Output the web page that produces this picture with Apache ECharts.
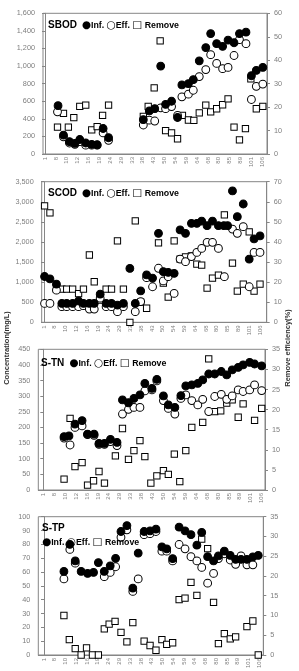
<!DOCTYPE html>
<html>
<head>
<meta charset="utf-8">
<script src="https://cdn.jsdelivr.net/npm/echarts@6/dist/echarts.min.js"></script>
<style>
html, body { margin: 0; padding: 0; background: #fff; }
#main { width: 299px; height: 671px; }
</style>
</head>
<body>
<div id="main"></div>
<script>
// x 轴标签（运行天数，每隔一个位置标一个）
var dayLabels = ['1', '8', '10', '12', '16', '19', '24', '29', '33', '38', '43',
    '50', '54', '59', '64', '68', '80', '85', '89', '101', '106'];

// 数据格式：[x 位置（0~40，标签每 2 个单位一个）, 数值]
// SBOD（左轴 mg/L，去除率右轴 %）
var sbodInf = [[2.4, 550], [3.4, 215], [4.5, 140], [5.5, 120], [6.4, 165], [7.5, 125], [8.6, 110], [9.6, 105],
    [10.7, 290], [11.7, 185], [18.1, 390], [19.2, 490], [20.2, 515], [21.3, 1000], [22.2, 565], [23.3, 600],
    [24.4, 415], [25.2, 785], [26.4, 800], [27.3, 845], [28.4, 1060], [29.6, 1210], [30.5, 1370], [31.6, 1255],
    [32.7, 1225], [33.7, 1295], [34.8, 1265], [35.8, 1370], [37.0, 1385], [38.0, 890], [38.9, 950], [40.1, 985]];
var sbodEff = [[2.3, 480], [3.4, 195], [4.5, 125], [5.5, 110], [6.4, 140], [7.5, 100], [8.6, 100], [9.6, 100],
    [10.7, 240], [11.7, 155], [18.1, 330], [19.2, 385], [20.2, 375], [21.3, 525], [22.2, 515], [23.3, 540],
    [24.4, 440], [25.2, 650], [26.4, 680], [27.3, 725], [28.4, 880], [29.6, 960], [30.5, 1130], [31.6, 1030],
    [32.7, 970], [33.7, 985], [34.8, 1120], [35.8, 1300], [37.0, 1255], [38.0, 620], [38.9, 770], [40.1, 795]];
var sbodRem = [[2.3, 11.5], [3.4, 17.3], [4.3, 11.5], [5.3, 15.5], [6.4, 20.3], [7.5, 20.8], [8.6, 10.3], [9.6, 11.7],
    [10.6, 16.5], [11.7, 20.8], [18.1, 16.0], [19.0, 20.3], [20.1, 28.2], [21.2, 48.2], [22.2, 10.0], [23.3, 9.0],
    [24.4, 6.5], [25.3, 16.5], [26.4, 14.5], [27.4, 14.3], [28.4, 17.5], [29.6, 20.8], [30.5, 18.0], [31.6, 19.3],
    [32.7, 21.0], [33.7, 23.5], [34.8, 11.5], [35.8, 6.0], [36.9, 10.8], [37.9, 32.0], [38.9, 19.3], [40.1, 20.3]];

// SCOD
var scodInf = [[0.1, 1140], [1.1, 1080], [2.3, 950], [3.3, 470], [4.2, 470], [5.3, 470], [6.4, 530], [7.3, 470],
    [8.4, 470], [9.3, 470], [10.4, 700], [11.5, 470], [12.5, 470], [13.6, 430], [14.7, 470], [15.9, 1340],
    [16.9, 470], [17.9, 780], [19.0, 1180], [20.1, 1100], [21.2, 2215], [22.1, 1260], [23.0, 1245], [24.1, 1220],
    [25.2, 2300], [26.2, 2215], [27.3, 2465], [28.3, 2465], [29.2, 2520], [30.2, 2405], [31.2, 2520], [32.3, 2405],
    [33.3, 2405], [34.0, 2405], [34.9, 3270], [35.8, 2630], [36.9, 2945], [38.0, 1575], [38.9, 2075], [40.0, 2150]];
var scodEff = [[0.1, 470], [1.1, 470], [2.3, 800], [3.3, 390], [4.2, 390], [5.3, 390], [6.4, 390], [7.3, 415],
    [8.4, 330], [9.3, 330], [10.4, 600], [11.5, 390], [12.5, 390], [13.6, 265], [14.7, 390], [16.9, 265],
    [17.9, 515], [19.0, 1110], [20.1, 885], [21.2, 1345], [22.1, 1030], [23.0, 1135], [24.1, 720], [25.2, 1575],
    [26.2, 1510], [27.3, 1635], [28.3, 1740], [29.2, 1840], [30.2, 1990], [31.2, 1990], [32.3, 1840], [33.4, 1135],
    [34.9, 2320], [35.8, 2215], [36.9, 2380], [38.0, 885], [38.9, 1740], [40.0, 1740]];
var scodRem = [[0.1, 58], [1.1, 54.5], [2.3, 16.5], [3.3, 16.5], [4.2, 16.5], [5.3, 16.5], [6.4, 14.3], [7.3, 16.5],
    [8.4, 33.5], [9.3, 20.2], [10.4, 11], [11.5, 16.5], [12.5, 16.5], [13.6, 40.5], [14.7, 16.5], [15.9, 0],
    [16.9, 50.5], [17.9, 10], [19.0, 7], [21.2, 39.5], [22.1, 19.5], [23.0, 12.5], [24.1, 40.5], [25.2, 31.5],
    [26.2, 32.5], [27.3, 33], [28.3, 29], [29.2, 28.5], [30.2, 17], [31.2, 22], [32.3, 23.5], [33.4, 53.5],
    [34.9, 29.5], [35.8, 15.5], [36.9, 19], [38.0, 45], [38.9, 15.5], [40.0, 19]];

// S-TN
var stnInf = [[3.8, 171], [4.7, 173], [5.8, 211], [7.1, 222], [8.1, 179], [9.3, 179], [10.2, 149], [11.2, 149],
    [12.3, 162], [13.5, 152], [14.5, 288], [15.6, 279], [16.6, 293], [17.7, 304], [18.6, 341], [19.9, 325],
    [20.8, 354], [22.0, 301], [22.9, 272], [24.1, 264], [25.2, 302], [26.1, 333], [27.2, 336], [28.3, 341],
    [29.2, 352], [30.3, 371], [31.4, 371], [32.6, 379], [33.6, 368], [34.6, 384], [35.7, 392], [36.6, 400],
    [37.8, 408], [38.7, 403], [40.0, 397]];
var stnEff = [[3.8, 166], [4.9, 144], [5.8, 200], [7.1, 205], [8.1, 177], [9.3, 175], [10.2, 146], [11.2, 146],
    [12.3, 155], [13.5, 142], [14.5, 243], [15.6, 258], [16.6, 264], [17.7, 264], [18.6, 317], [19.9, 320],
    [20.8, 349], [22.0, 286], [22.9, 261], [24.1, 243], [25.2, 293], [26.1, 304], [27.2, 286], [28.3, 272],
    [29.2, 290], [30.3, 251], [31.4, 299], [32.6, 306], [33.6, 290], [34.6, 301], [35.7, 320], [36.6, 315],
    [37.8, 320], [38.7, 336], [40.0, 318]];
var stnRem = [[3.8, 2.7], [4.9, 17.8], [5.8, 5.8], [7.1, 6.8], [8.1, 1.2], [9.2, 2.3], [10.2, 4.6], [11.2, 1.7],
    [13.2, 8.5], [14.5, 15.3], [15.6, 7.6], [16.6, 9.8], [17.7, 12.3], [18.6, 8.3], [19.7, 1.7], [20.8, 3.5],
    [22.0, 4.8], [22.9, 3.9], [24.0, 8.9], [25.0, 2.1], [26.1, 9.8], [27.2, 15.6], [29.2, 16.8], [30.3, 32.6],
    [31.4, 19.5], [32.5, 19.7], [33.6, 21.6], [34.6, 22.4], [35.7, 18.1], [36.6, 21.4], [38.7, 17.3], [40.0, 20.3]];

// S-TP
var stpInf = [[3.7, 60.4], [4.8, 80], [5.8, 68], [6.9, 60.4], [8.1, 59], [9.2, 59.7], [10.1, 66.8], [11.2, 60.4],
    [12.3, 64.5], [13.3, 69.9], [14.3, 89.3], [15.4, 93.6], [16.5, 48.3], [17.5, 73.7], [18.6, 89.3], [19.7, 89.8],
    [20.8, 91], [21.9, 78.2], [22.8, 76.8], [23.9, 69.7], [25.1, 92.4], [26.2, 89.8], [27.3, 87], [28.4, 79.4],
    [29.3, 88.6], [30.4, 71.1], [31.5, 68], [32.4, 71.6], [33.5, 75.1], [34.6, 72], [35.6, 69.2], [36.6, 69.2],
    [37.7, 69.2], [38.8, 70.9], [39.8, 72]];
var stpEff = [[3.7, 55], [4.8, 76.3], [5.8, 66.4], [11.2, 56.6], [12.3, 59.7], [13.3, 63.8], [14.3, 85.1],
    [15.4, 90.5], [16.5, 46], [17.5, 55], [18.6, 87], [19.7, 87.7], [20.8, 89.3], [21.9, 75.1], [22.8, 75.1],
    [23.9, 68], [25.1, 79.9], [26.2, 76.8], [27.3, 71.1], [28.4, 68], [29.3, 63.3], [30.4, 51.9], [31.5, 59],
    [32.4, 69.7], [33.5, 73.2], [34.6, 68.7], [35.6, 65.6], [36.6, 71.6], [37.7, 65.2], [38.8, 65.2]];
var stpRem = [[3.7, 10], [4.7, 3.9], [5.8, 1.6], [6.9, 0], [7.9, 1.8], [9.0, 0], [10.1, 0], [11.2, 6.6],
    [12.1, 7.8], [13.2, 8.5], [14.3, 5.7], [15.4, 3.3], [16.5, 8.2], [18.6, 3.5], [19.7, 2.4], [20.8, 1.2],
    [21.9, 3.9], [22.8, 2.7], [23.9, 3.1], [25.1, 14], [26.2, 14.4], [27.3, 18.4], [28.4, 15.1], [29.3, 29.3],
    [30.4, 26.9], [31.5, 13.3], [32.4, 2.9], [33.5, 5.4], [34.6, 4.1], [35.6, 4.6], [37.7, 7.2], [38.8, 8.6],
    [39.8, 0]];

// 四个子图的布局（像素）和坐标范围
var panels = [
    { name: 'SBOD', inf: sbodInf, eff: sbodEff, rem: sbodRem, l: 43, r: 267, t: 13.3, b: 154,
      xmin: -0.37, xmax: 40.87, ymax: 1600, yint: 200, rmax: 60, rint: 10, lx: 48, ly: 25.7, wrap: false },
    { name: 'SCOD', inf: scodInf, eff: scodEff, rem: scodRem, l: 41.7, r: 266.7, t: 181.7, b: 322.3,
      xmin: -0.43, xmax: 41.24, ymax: 3500, yint: 500, rmax: 70, rint: 10, lx: 48, ly: 193.3, wrap: false },
    { name: 'S-TN', inf: stnInf, eff: stnEff, rem: stnRem, l: 38.3, r: 265, t: 349.3, b: 490,
      xmin: -0.92, xmax: 40.61, ymax: 450, yint: 50, rmax: 35, rint: 5, lx: 41, ly: 363.3, wrap: false },
    { name: 'S-TP', inf: stpInf, eff: stpEff, rem: stpRem, l: 38.3, r: 263.3, t: 516.7, b: 657.3,
      xmin: -1.06, xmax: 40.74, ymax: 100, yint: 10, rmax: 35, rint: 5, lx: 42, ly: 528.3, wrap: true }
];

var axisColor = '#868686';
var labelColor = '#7f7f7f';
var fontFam = 'Liberation Sans, Arial, sans-serif';

function thousands(v) {
    return String(v).replace(/\B(?=(\d{3})+(?!\d))/g, ',');
}

var grid = [], xAxis = [], yAxis = [], series = [], graphic = [];
var labelPos = dayLabels.map(function (d, i) { return i * 2; });

// 图例文字样式
var rich = {
    t: { fontSize: 10, fontWeight: 'bold', fill: '#000', fontFamily: fontFam },
    l: { fontSize: 8.8, fontWeight: 'bold', fill: '#000', fontFamily: fontFam },
    s: { fontSize: 10.5, fill: '#000', fontFamily: 'DejaVu Sans' }
};
var legendText = '{s|●}{l|Inf. }{s|○}{l|Eff. }{s|□}{l| Remove}';

panels.forEach(function (p, k) {
    grid.push({
        left: p.l, top: p.t, width: p.r - p.l, height: p.b - p.t,
        show: true, borderColor: axisColor, borderWidth: 1, backgroundColor: 'transparent'
    });
    xAxis.push({
        type: 'value', gridIndex: k, min: p.xmin, max: p.xmax,
        axisLine: { show: true, onZero: false, lineStyle: { color: axisColor } },
        axisTick: { show: false },
        splitLine: { show: false },
        axisLabel: {
            customValues: labelPos, rotate: 90, fontSize: 6, color: labelColor, margin: 3,
            fontFamily: fontFam,
            formatter: function (v) { return dayLabels[Math.round(v / 2)]; }
        }
    });
    // 左轴：浓度
    yAxis.push({
        type: 'value', gridIndex: k, position: 'left', min: 0, max: p.ymax, interval: p.yint,
        axisLine: { show: true, lineStyle: { color: axisColor } },
        axisTick: { show: true, length: 3, lineStyle: { color: axisColor } },
        splitLine: { show: false },
        axisLabel: { fontSize: 7.3, color: labelColor, margin: 8, fontFamily: fontFam, formatter: thousands }
    });
    // 右轴：去除率
    yAxis.push({
        type: 'value', gridIndex: k, position: 'right', min: 0, max: p.rmax, interval: p.rint,
        axisLine: { show: true, lineStyle: { color: axisColor } },
        axisTick: { show: true, length: 3, lineStyle: { color: axisColor } },
        splitLine: { show: false },
        axisLabel: { fontSize: 7.3, color: labelColor, margin: 7, fontFamily: fontFam }
    });
    series.push({
        name: 'Remove', type: 'scatter', xAxisIndex: k, yAxisIndex: 2 * k + 1, data: p.rem,
        symbol: 'rect', symbolSize: 6.3, z: 2,
        itemStyle: { color: '#fff', borderColor: '#000', borderWidth: 1, opacity: 1 }
    });
    series.push({
        name: 'Eff.', type: 'scatter', xAxisIndex: k, yAxisIndex: 2 * k, data: p.eff,
        symbol: 'circle', symbolSize: 7.8, z: 3,
        itemStyle: { color: '#fff', borderColor: '#000', borderWidth: 1, opacity: 1 }
    });
    series.push({
        name: 'Inf.', type: 'scatter', xAxisIndex: k, yAxisIndex: 2 * k, data: p.inf,
        symbol: 'circle', symbolSize: 7.8, z: 4,
        itemStyle: { color: '#000', borderColor: '#000', borderWidth: 1, opacity: 1 }
    });

    // 图内的标题 + 图例文字
    if (p.wrap) {
        graphic.push({ type: 'text', x: p.lx, y: p.ly, z: 10,
            style: { text: '{t|' + p.name + '}', rich: rich, verticalAlign: 'middle' } });
        graphic.push({ type: 'text', x: p.lx, y: p.ly + 14.4, z: 10,
            style: { text: legendText, rich: rich, verticalAlign: 'middle' } });
    } else {
        graphic.push({ type: 'text', x: p.lx, y: p.ly, z: 10,
            style: { text: '{t|' + p.name + '}{l|  }' + legendText, rich: rich, verticalAlign: 'middle' } });
    }
});

// 两侧坐标轴标题
graphic.push({
    type: 'text', x: 7, y: 348, rotation: Math.PI / 2,
    style: { text: 'Concentration(mg/L)', align: 'center', verticalAlign: 'middle',
        font: 'bold 7.5px ' + fontFam, fill: '#333' }
});
graphic.push({
    type: 'text', x: 288, y: 348, rotation: Math.PI / 2,
    style: { text: 'Remove efficiency(%)', align: 'center', verticalAlign: 'middle',
        font: 'bold 7.5px ' + fontFam, fill: '#333' }
});

var chart = echarts.init(document.getElementById('main'));
chart.setOption({
    animation: false,
    grid: grid,
    xAxis: xAxis,
    yAxis: yAxis,
    series: series,
    graphic: graphic
});
</script>
</body>
</html>
